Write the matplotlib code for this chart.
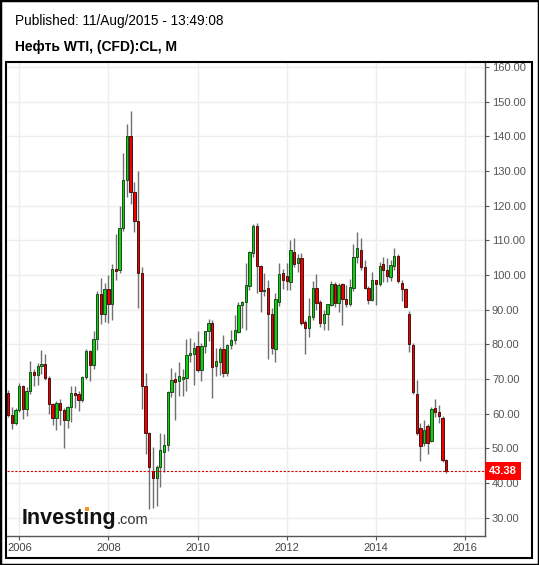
import numpy as np
import pandas as pd
import matplotlib
matplotlib.use('Agg')
import matplotlib.pyplot as plt
import matplotlib.dates as mdates
from matplotlib.patches import Rectangle

plt.rcParams['font.family'] = ['Liberation Sans', 'DejaVu Sans']

# monthly candles, Oct 2005 .. Aug 2015
months = pd.date_range('2005-10-01', '2015-08-01', freq='MS')

opens = [
    66.1, 59.7, 57.3,
    61.0, 67.9, 61.4, 66.6, 71.9, 71.3, 73.9, 74.4, 70.3, 62.9, 58.7, 63.1,
    61.1, 58.1, 61.8, 65.9, 65.7, 64.0, 70.7, 78.2, 74.0, 81.7, 94.5, 88.7,
    96.0, 91.8, 101.8, 101.6, 113.5, 127.4, 140.0, 124.1, 115.5, 100.6, 68.1, 54.4,
    43.4, 41.5, 44.6, 48.8, 51.0, 66.3, 70.1, 69.4, 70.1, 70.2, 76.9, 77.2,
    79.6, 72.6, 79.5, 83.8, 86.2, 73.7, 75.0, 78.8, 71.6, 79.8, 81.2, 83.5,
    91.3, 92.1, 96.9, 106.4, 114.2, 102.6, 95.3, 96.2, 88.7, 78.8, 92.3, 100.5,
    99.7, 98.1, 106.8, 103.4, 104.8, 86.4, 84.6, 88.0, 96.4, 92.1, 86.1, 88.7,
    91.5, 97.4, 92.0, 97.4, 93.0, 91.6, 96.3, 105.1, 107.1, 102.2, 96.3, 92.7,
    98.5, 97.3, 103.2, 101.4, 99.5, 102.6, 105.5, 97.6, 95.9, 88.9, 79.8, 65.6,
    55.8, 51.4, 56.4, 52.2, 61.6, 60.5, 58.9, 46.6,
]
highs = [
    66.8, 61.8, 61.6,
    69.0, 68.4, 67.8, 75.2, 73.0, 74.5, 78.4, 77.2, 70.8, 63.2, 63.8, 64.1,
    61.6, 62.2, 68.1, 67.9, 66.6, 70.9, 78.8, 78.3, 83.9, 95.4, 99.3, 97.8,
    100.1, 103.1, 111.8, 119.9, 135.1, 143.7, 147.3, 126.8, 130.0, 102.4, 71.8, 54.7,
    50.3, 45.2, 54.3, 54.0, 66.5, 73.1, 72.0, 74.8, 72.8, 81.7, 81.8, 80.8,
    83.9, 80.5, 83.9, 87.2, 87.0, 79.0, 79.3, 82.7, 80.0, 84.2, 88.6, 92.1,
    92.6, 103.4, 106.9, 114.8, 114.9, 102.9, 100.6, 98.6, 90.5, 94.7, 103.4, 101.8,
    103.4, 110.1, 110.6, 106.0, 106.4, 86.9, 93.3, 98.3, 100.4, 92.9, 89.9, 91.0,
    98.2, 98.0, 97.8, 97.8, 97.0, 99.0, 108.9, 112.3, 110.7, 104.3, 96.9, 100.8,
    98.6, 103.8, 105.2, 104.9, 104.4, 107.7, 106.1, 98.6, 96.2, 89.6, 80.5, 69.7,
    57.4, 58.2, 57.0, 62.0, 64.1, 62.6, 59.4, 46.8,
]
lows = [
    59.0, 55.6, 56.8,
    60.6, 58.6, 59.3, 65.8, 68.0, 68.2, 71.5, 69.8, 59.8, 56.6, 55.4, 56.6,
    50.0, 55.8, 57.5, 61.6, 60.8, 63.4, 70.0, 69.3, 72.9, 78.3, 86.0, 86.5,
    86.1, 87.0, 98.7, 100.6, 112.6, 122.6, 120.4, 112.3, 90.5, 61.3, 48.3, 32.4,
    32.7, 33.5, 38.8, 43.2, 49.3, 64.9, 58.3, 65.2, 65.0, 66.5, 74.9, 68.3,
    72.0, 69.5, 77.6, 81.0, 64.4, 70.8, 71.1, 70.7, 70.8, 78.6, 80.1, 83.3,
    84.6, 84.1, 95.8, 105.2, 94.7, 89.4, 94.0, 75.7, 77.1, 75.0, 91.2, 96.0,
    95.7, 95.7, 102.4, 101.0, 85.6, 77.2, 82.0, 87.0, 90.0, 85.0, 84.1, 84.1,
    91.2, 90.8, 89.3, 85.6, 90.7, 91.2, 95.5, 103.6, 101.6, 95.9, 91.8, 92.4,
    91.3, 96.9, 98.0, 97.9, 98.4, 101.6, 97.6, 92.5, 90.7, 77.8, 65.8, 53.8,
    46.4, 50.6, 48.5, 51.8, 59.1, 57.4, 46.2, 43.0,
]
closes = [
    59.7, 57.3, 61.0,
    67.9, 61.4, 66.6, 71.9, 71.3, 73.9, 74.4, 70.3, 62.9, 58.7, 63.1, 61.1,
    58.1, 61.8, 65.9, 65.7, 64.0, 70.7, 78.2, 74.0, 81.7, 94.5, 88.7, 96.0,
    91.8, 101.8, 101.6, 113.5, 127.4, 140.0, 124.1, 115.5, 100.6, 68.1, 54.4, 44.6,
    41.5, 44.6, 49.6, 51.0, 66.3, 69.6, 69.2, 70.9, 70.7, 76.9, 77.4, 79.1,
    72.6, 79.6, 83.8, 86.2, 73.5, 75.3, 78.8, 71.6, 79.8, 81.2, 84.1, 91.3,
    92.1, 97.1, 106.7, 114.2, 102.7, 95.3, 95.7, 88.7, 79.1, 93.0, 100.2, 98.6,
    98.4, 107.1, 103.1, 104.8, 86.2, 84.8, 88.2, 96.4, 92.0, 86.1, 88.7, 91.7,
    97.4, 92.0, 97.2, 93.0, 91.8, 96.5, 105.1, 107.7, 102.2, 96.3, 92.7, 98.5,
    97.3, 102.6, 101.5, 99.8, 102.9, 105.5, 98.2, 95.9, 90.9, 80.0, 66.3, 54.5,
    50.8, 55.3, 51.4, 61.4, 60.5, 59.4, 46.6, 43.38,
]

year_ticks = [2006, 2008, 2010, 2012, 2014, 2016]
price_ticks = [30, 40, 50, 60, 70, 80, 90, 100, 110, 120, 130, 140, 150, 160]

W, H = 539, 565
fig = plt.figure(figsize=(W / 100, H / 100), dpi=100)
fig.patch.set_facecolor('white')

# plot area in pixels: x 7..485, y 62..536
ax = fig.add_axes([7 / W, 1 - 536 / H, (485 - 7) / W, (536 - 62) / H])

o = np.array(opens)
c = np.array(closes)
up = c >= o
body = c - o
body = np.where(np.abs(body) < 0.5, np.where(up, 0.5, -0.5), body)
fill = np.where(up, '#0fd10f', '#f00000')
edge = np.where(up, '#1e4a1e', '#4a1010')

ax.vlines(months, lows, highs, color='#707070', lw=1, zorder=2)
ax.bar(months, body, bottom=o, width=19, color=fill, edgecolor=edge,
       linewidth=0.7, zorder=3)

# last price line + label
last = closes[-1]
ax.axhline(last, color='#d40000', lw=0.8, ls=(0, (2, 1.5)), zorder=4)
ax.annotate('%.2f' % last, xy=(1, last), xycoords=('axes fraction', 'data'),
            xytext=(2.8, 0), textcoords='offset points', ha='left', va='center',
            color='white', fontsize=8, fontweight='bold', annotation_clip=False,
            bbox=dict(boxstyle='square,pad=0.35', fc='#ff0000', ec='none'),
            zorder=6)

ax.set_xlim(mdates.date2num(pd.Timestamp('2005-09-22')),
            mdates.date2num(pd.Timestamp('2016-06-13')))
ax.set_ylim(24.7, 161.5)

ax.set_xticks([mdates.date2num(pd.Timestamp(year=y, month=1, day=1)) for y in year_ticks])
ax.set_xticklabels([str(y) for y in year_ticks])
ax.set_yticks(price_ticks)
ax.set_yticklabels(['%.2f' % p for p in price_ticks])

ax.yaxis.tick_right()
ax.tick_params(axis='y', direction='out', length=3, color='#555555',
               labelcolor='#555555', labelsize=8, pad=2)
ax.tick_params(axis='x', direction='out', length=3, color='#555555',
               labelcolor='#444444', labelsize=8, pad=2)

ax.grid(True, color='#ededed', lw=1)
ax.set_axisbelow(True)
for s in ['top', 'left']:
    ax.spines[s].set_visible(False)
for s in ['right', 'bottom']:
    ax.spines[s].set_color('#555555')
    ax.spines[s].set_linewidth(1)

# frames
fig.add_artist(Rectangle((6 / W, 1 - 558 / H), (532 - 6) / W, (558 - 62) / H,
                         transform=fig.transFigure, fill=False, ec='black', lw=1.5))
fig.add_artist(Rectangle((0, 0), 1, 1, transform=fig.transFigure, fill=False,
                         ec='black', lw=2.5))

# header
fig.text(15 / W, 1 - 25 / H, 'Published: 11/Aug/2015 - 13:49:08',
         fontsize=9.8, color='black', va='baseline')
fig.text(15 / W, 1 - 51 / H, 'Нефть WTI, (CFD):CL, M',
         fontsize=10, fontweight='bold', color='black', va='baseline')

# logo
lx, ly = 22 / W, 1 - 524 / H
logo = fig.text(lx, ly, 'Investıng', fontsize=15.5, fontweight='bold',
                color='#111111', va='baseline', zorder=10)
fig.canvas.draw()
r = fig.canvas.get_renderer()
tmp = fig.text(lx, ly, 'Invest', fontsize=15.5, fontweight='bold', va='baseline')
w1 = tmp.get_window_extent(r).width
tmp.remove()
tmp = fig.text(lx, ly, 'Investı', fontsize=15.5, fontweight='bold', va='baseline')
w2 = tmp.get_window_extent(r).width
tmp.remove()
wl = logo.get_window_extent(r).width
dot_x = 22 + (w1 + w2) / 2
fig.add_artist(Rectangle(((dot_x - 2) / W, 1 - 511 / H), 4 / W, 4.5 / H,
                         transform=fig.transFigure, fc='#f7931e', ec='none', zorder=11))
fig.text((22 + wl) / W, ly, '.com', fontsize=10.5, color='#333333',
         va='baseline', zorder=10)

fig.savefig('out.png', dpi=100)
